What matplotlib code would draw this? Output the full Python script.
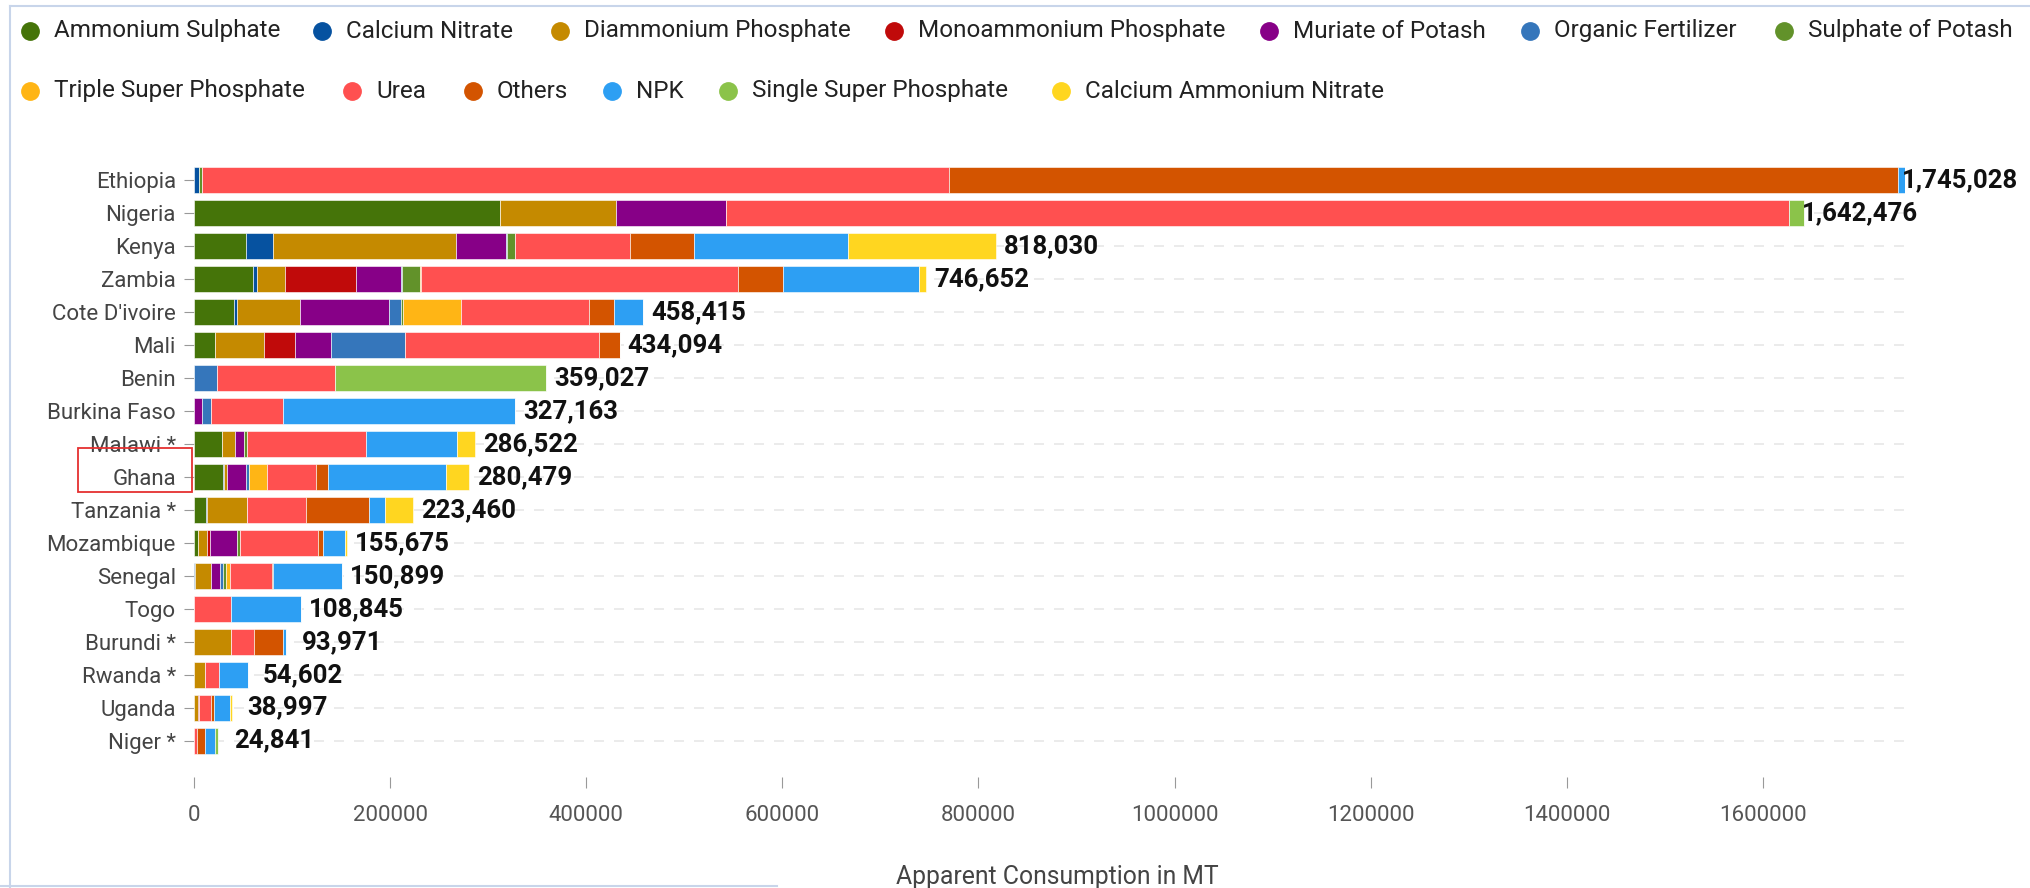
import numpy as np
import matplotlib.pyplot as plt
from matplotlib.lines import Line2D
from matplotlib.patches import Rectangle
from matplotlib.transforms import blended_transform_factory

plt.rcParams['font.family'] = ['Roboto', 'DejaVu Sans']

countries = ["Ethiopia", "Nigeria", "Kenya", "Zambia", "Cote D'ivoire", "Mali", "Benin",
             "Burkina Faso", "Malawi *", "Ghana", "Tanzania *", "Mozambique", "Senegal",
             "Togo", "Burundi *", "Rwanda *", "Uganda", "Niger *"]

# apparent consumption (MT) per fertilizer, same order as countries
ammonium_sulphate = [0, 312000, 53100, 60400, 40400, 21400, 0, 0, 28700, 29600, 12300, 4100, 0, 0, 0, 0, 0, 0]
calcium_nitrate = [5000, 0, 27200, 3600, 3600, 0, 0, 0, 0, 1300, 1400, 0, 1400, 0, 0, 0, 0, 0]
diammonium_phosphate = [0, 118500, 187000, 28600, 64500, 49500, 0, 0, 13500, 2700, 39900, 9100, 15900, 0, 37300, 11400, 3600, 0]
monoammonium_phosphate = [0, 0, 0, 73100, 0, 31700, 0, 0, 0, 0, 0, 3200, 0, 0, 0, 0, 1300, 0]
muriate_of_potash = [0, 112500, 50400, 45400, 90400, 37200, 0, 7700, 8700, 19100, 0, 27200, 9500, 0, 0, 0, 0, 0]
organic_fertilizer = [0, 0, 1400, 1400, 12700, 75000, 23600, 9600, 0, 3600, 0, 0, 3000, 0, 0, 0, 0, 0]
sulphate_of_potash = [3000, 0, 8600, 17700, 1400, 0, 0, 0, 3200, 0, 0, 3200, 3000, 0, 0, 0, 0, 0]
triple_super_phosphate = [0, 0, 0, 1800, 59000, 0, 0, 0, 0, 18600, 0, 0, 4000, 0, 0, 0, 0, 0]
urea = [762000, 1083700, 116700, 322900, 130700, 197900, 119900, 73100, 121200, 49100, 60800, 79900, 43100, 37300, 23600, 14000, 12400, 2700]
others = [967900, 0, 65400, 45800, 25500, 21394, 0, 0, 0, 12300, 63600, 4600, 500, 0, 29900, 0, 3600, 8700]
npk = [7128, 0, 157500, 138500, 30215, 0, 0, 236763, 93100, 120700, 17300, 22700, 70499, 71545, 3171, 29202, 15900, 10000]
single_super_phosphate = [0, 15776, 0, 0, 0, 0, 215527, 0, 0, 0, 0, 0, 0, 0, 0, 0, 0, 3441]
calcium_ammonium_nitrate = [0, 0, 150730, 7452, 0, 0, 0, 0, 18122, 23479, 28160, 1675, 0, 0, 0, 0, 2197, 0]

series = [
    ("Ammonium Sulphate", ammonium_sulphate, "#457409"),
    ("Calcium Nitrate", calcium_nitrate, "#0652a0"),
    ("Diammonium Phosphate", diammonium_phosphate, "#c58a00"),
    ("Monoammonium Phosphate", monoammonium_phosphate, "#c00a0a"),
    ("Muriate of Potash", muriate_of_potash, "#870087"),
    ("Organic Fertilizer", organic_fertilizer, "#3576bb"),
    ("Sulphate of Potash", sulphate_of_potash, "#62922a"),
    ("Triple Super Phosphate", triple_super_phosphate, "#ffb515"),
    ("Urea", urea, "#ff5050"),
    ("Others", others, "#d35400"),
    ("NPK", npk, "#2d9ff3"),
    ("Single Super Phosphate", single_super_phosphate, "#8bc34a"),
    ("Calcium Ammonium Nitrate", calcium_ammonium_nitrate, "#ffd620"),
]

W, H = 2030, 888
fig = plt.figure(figsize=(W / 100, H / 100), dpi=100)
ax = fig.add_axes([194 / W, 0.125, (1905 - 194) / W, 0.8198 - 0.125])

y = np.arange(len(countries))
left = np.zeros(len(countries))
for name, vals, col in series:
    vals = np.array(vals, dtype=float)
    ax.barh(y, vals, left=left, height=0.8, color=col, edgecolor='white', linewidth=0.4, zorder=2)
    left += vals

# totals, centred a fixed distance past the bar end
for yi, tot in zip(y, left):
    ax.annotate(f"{int(tot):,}", (tot, yi), xytext=(40, 0), textcoords='offset points',
                va='center', ha='center', fontsize=18.5, fontweight='bold', color='#111111', zorder=3)

ax.set_xlim(0, left.max())
ax.set_ylim(len(countries) - 1 + 1.1, -0.6)
ax.set_yticks(y)
ax.set_yticklabels(countries, fontsize=16, color='#444444')
ax.set_xticks(np.arange(0, 1600001, 200000))
ax.set_xticklabels([str(v) for v in range(0, 1600001, 200000)], fontsize=16, color='#555555')
ax.tick_params(axis='y', length=7, color='#999999', pad=6)
ax.tick_params(axis='x', length=8, color='#999999', pad=12)
for s in ax.spines.values():
    s.set_visible(False)
ax.grid(axis='y', linestyle=(0, (6, 6)), color='#e8e8e8', linewidth=1.2, zorder=0)
ax.set_axisbelow(True)
fig.text(1057 / W, 1 - 877 / H, "Apparent Consumption in MT", ha='center', va='center',
         fontsize=17.8, color='#444444')

# red box around Ghana
tr = blended_transform_factory(fig.transFigure, ax.transData)
ax.add_patch(Rectangle((78 / W, 9.47), (192 - 78) / W, -1.34, transform=tr, fill=False,
                       edgecolor='#e53030', linewidth=1.3, clip_on=False, zorder=5))

# container border
border = '#c8d5ea'
fig.add_artist(Line2D([10 / W, 1], [1 - 6 / H, 1 - 6 / H], color=border, lw=1.5))
fig.add_artist(Line2D([10 / W, 10 / W], [0, 1 - 6 / H], color=border, lw=1.5))
fig.add_artist(Line2D([0, 777 / W], [2 / H, 2 / H], color=border, lw=1.5))

# legend, two rows, marker x positions in pixels
rows = [series[:7], series[7:]]
row_x = [[30, 322, 560, 894, 1269, 1530, 1784], [30, 352, 473, 612, 728, 1061]]
row_y = [31, 91]
for row, xs, ry in zip(rows, row_x, row_y):
    yf = 1 - ry / H
    for (name, vals, col), x in zip(row, xs):
        fig.add_artist(Line2D([x / W], [yf], marker='o', markersize=12.5, color=col, lw=0))
        fig.text((x + 24) / W, yf, name, ha='left', va='center', fontsize=17.5, color='#222222')

fig.savefig("out.png", dpi=100)
